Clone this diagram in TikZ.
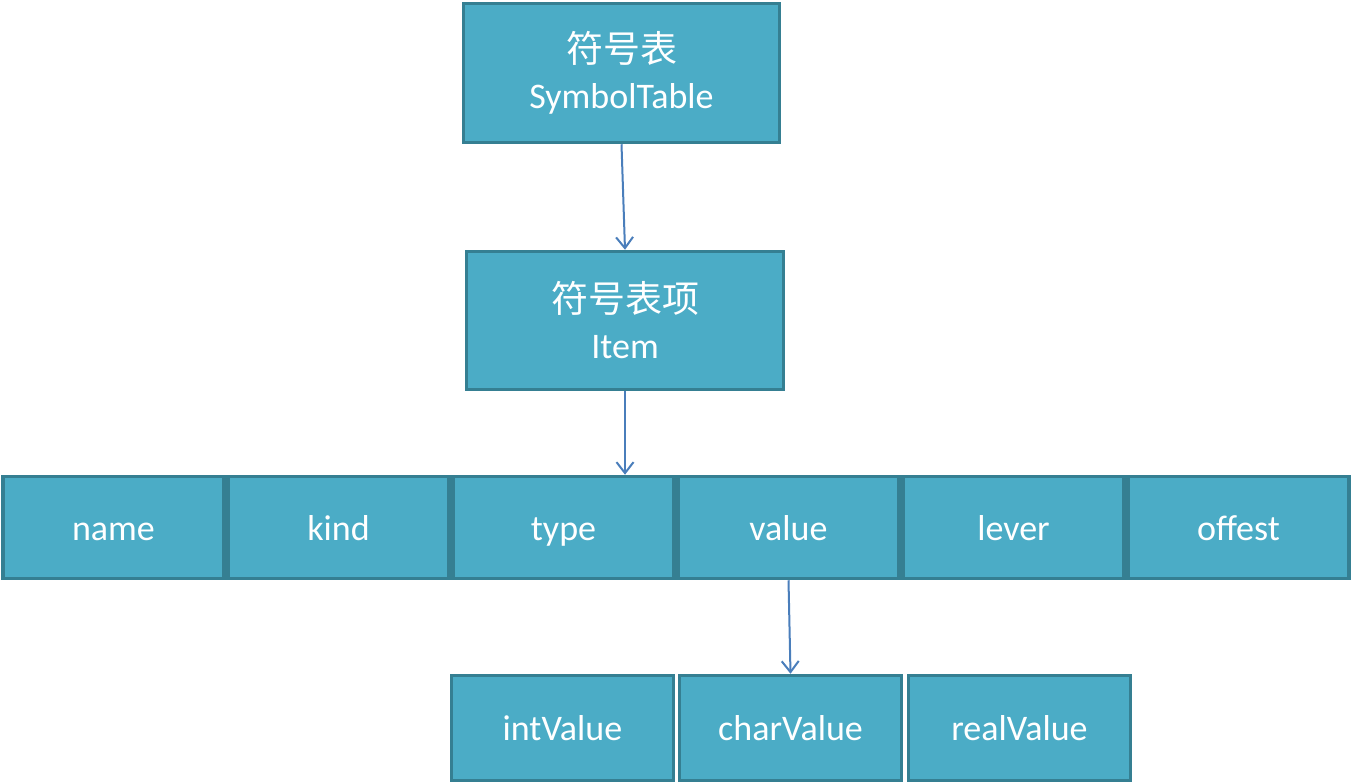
\documentclass[tikz,border=0pt]{standalone}
\usepackage{fontspec}
\usepackage{xcolor}
\usepackage{tikz}
\usetikzlibrary{arrows.meta}
\setmainfont{Carlito}
\newfontfamily\cjk{Noto Sans CJK SC}
\definecolor{boxfill}{HTML}{4BACC6}
\definecolor{boxline}{HTML}{357F92}
\definecolor{arrowblue}{HTML}{4A7EBB}

\begin{document}
\begin{tikzpicture}[x=1pt, y=-1pt, node distance={225pt},
  main/.style = {draw=boxline, fill=boxfill, text=white, line width=3.5pt, inner sep=0pt, align=center, font=\fontsize{36}{46}\selectfont},
  field/.style = {main, minimum width=221pt, minimum height=102pt, text height=28pt, text depth=3pt},
  sub/.style = {main, minimum width=222pt, minimum height=105pt, text height=28pt, text depth=3pt},
  link/.style = {draw=arrowblue, line width=2pt, -{Straight Barb[length=11pt,width=17pt]}}]
\useasboundingbox (0,0) rectangle (1352,784);
\node[main, minimum width=316pt, minimum height=139pt] (sym) at (621.5,73) {{\cjk\fontsize{37}{46}\selectfont 符号表}\\SymbolTable};
\node[main, minimum width=317pt, minimum height=138pt] (item) at (625,320.5) {{\cjk\fontsize{37}{46}\selectfont 符号表项}\\Item};
\node[field] (name) at (113.5,527.5) {name};
\node[field] (kind) [right of=name] {kind};
\node[field] (type) [right of=kind] {type};
\node[field] (value) [right of=type] {value};
\node[field] (lever) [right of=value] {lever};
\node[field] (offest) [right of=lever] {offest};
\node[sub] (intval) at (562.5,728) {intValue};
\node[sub] (charval) at (790.5,728) {charValue};
\node[sub] (realval) at (1019.5,728) {realValue};
\draw[link] (sym.south) -- (item.north);
\draw[link] (item.south) -- (item.south |- type.north);
\draw[link] (value.south) -- (charval.north);
\end{tikzpicture}
\end{document}
